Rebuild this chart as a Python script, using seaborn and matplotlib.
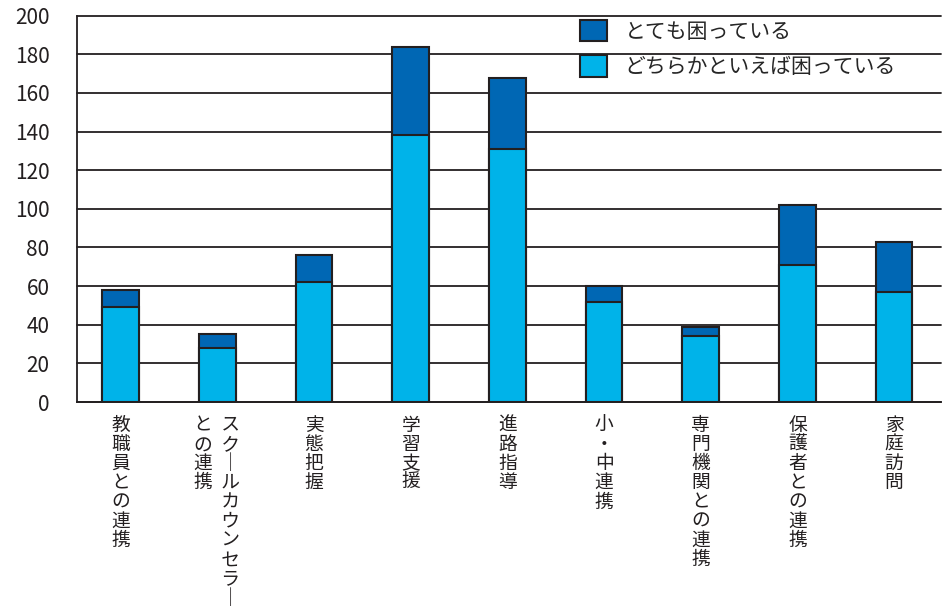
import pandas as pd
import matplotlib
matplotlib.use("Agg")
import matplotlib.pyplot as plt
import seaborn as sns
from matplotlib.patches import Patch

# datos
categorias = ["教職員との連携", "スクールカウンセラーとの連携", "実態把握", "学習支援", "進路指導",
              "小・中連携", "専門機関との連携", "保護者との連携", "家庭訪問"]
dochiraka = [49, 28, 62, 138, 131, 52, 34, 71, 57]   # どちらかといえば困っている
totemo = [9, 7, 14, 46, 37, 8, 5, 31, 26]            # とても困っている
ticks_y = [0, 20, 40, 60, 80, 100, 120, 140, 160, 180, 200]
leyenda = ["とても困っている", "どちらかといえば困っている"]

df = pd.DataFrame({"cat": categorias, "light": dochiraka, "dark": totemo})
df["total"] = df["light"] + df["dark"]

sns.set_style("white")
plt.rcParams["font.family"] = ["Noto Sans CJK JP", "DejaVu Sans"]

color_dark = "#0067b4"
color_light = "#00b3e9"
linea = "#231f20"

fig = plt.figure(figsize=(9.51, 6.09), dpi=100)
ax = fig.add_axes([0.0807, 0.3399, 0.9093, 0.6343])

# primero el total (oscuro), luego la parte clara encima
sns.barplot(data=df, x="cat", y="total", color=color_dark, width=0.38,
            edgecolor=linea, linewidth=1.5, saturation=1, ax=ax, zorder=3)
sns.barplot(data=df, x="cat", y="light", color=color_light, width=0.38,
            edgecolor=linea, linewidth=1.5, saturation=1, ax=ax, zorder=4)

ax.set_ylim(0, 200)
ax.set_xlim(-0.455, 8.49)
ax.set_yticks(ticks_y)
ax.set_yticklabels([str(t) for t in ticks_y], fontsize=15, color="#231f20")
ax.grid(axis="y", color=linea, linewidth=1.3, zorder=0)
ax.set_axisbelow(True)
for gl in ax.get_ygridlines():
    gl.set_clip_on(False)

for s in ["top", "right"]:
    ax.spines[s].set_visible(False)
for s in ["left", "bottom"]:
    ax.spines[s].set_color(linea)
    ax.spines[s].set_linewidth(1.3)

ax.tick_params(axis="y", direction="out", length=8.6, width=1.3, color=linea, pad=11)
ax.tick_params(axis="x", length=0, pad=9)
ax.set_xlabel("")
ax.set_ylabel("")

# etiquetas verticales (caracteres apilados)
def vertical(texto):
    return "\n".join(texto.replace("ー", "｜"))

etiquetas = []
for c in categorias:
    if c == "スクールカウンセラーとの連携":
        der = "スクールカウンセラー".replace("ー", "｜")
        izq = "との連携"
        filas = []
        for i in range(len(der)):
            a = izq[i] if i < len(izq) else "\u3000"
            filas.append(a + "  " + der[i])
        etiquetas.append("\n".join(filas))
    else:
        etiquetas.append(vertical(c))
ax.set_xticks(range(len(categorias)))
ax.set_xticklabels(etiquetas, fontsize=13.5, linespacing=0.89, va="top",
                   ha="center", color="#231f20")

handles = [Patch(facecolor=color_dark, edgecolor=linea, linewidth=1.5),
           Patch(facecolor=color_light, edgecolor=linea, linewidth=1.5)]
ax.legend(handles, leyenda, loc="upper left", bbox_to_anchor=(580 / 951, 1 - 20 / 609),
          bbox_transform=fig.transFigure, frameon=False, fontsize=15,
          handlelength=1.3, handleheight=1.2, handletextpad=0.85, labelspacing=0.6,
          borderpad=0, borderaxespad=0)

plt.savefig("out.png", dpi=100)
